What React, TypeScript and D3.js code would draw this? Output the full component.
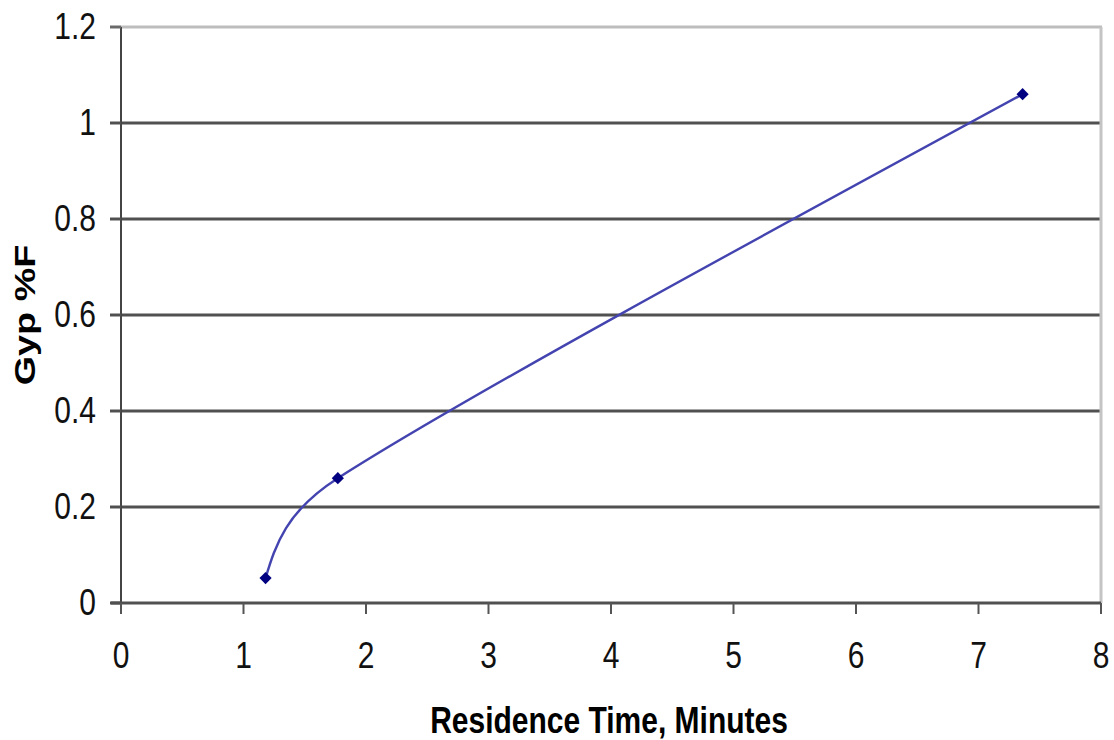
import React from "react";
import * as d3 from "d3";

const residenceTime = [1.18, 1.77, 7.36];
const gypF = [0.052, 0.26, 1.06];
const xTicks = [0, 1, 2, 3, 4, 5, 6, 7, 8];
const yTicks = [0, 0.2, 0.4, 0.6, 0.8, 1, 1.2];
const xTitle = "Residence Time, Minutes";
const yTitle = "Gyp %F";

const W = 1114;
const H = 740;
const FONT = "'Liberation Sans', Arial, sans-serif";
const SY = 1.26;

// Excel-like smoothed line: Catmull-Rom tangents, arms clamped to half the adjacent segment,
// natural end conditions.
function smoothPath(p: [number, number][]): string {
  const n = p.length;
  const path = d3.path();
  if (n < 2) return "";
  const dist = (a: [number, number], b: [number, number]) => Math.hypot(b[0] - a[0], b[1] - a[1]);
  const outC: [number, number][] = [];
  const inC: [number, number][] = [];
  for (let i = 1; i < n - 1; i++) {
    const tx = (p[i + 1][0] - p[i - 1][0]) / 6;
    const ty = (p[i + 1][1] - p[i - 1][1]) / 6;
    const tl = Math.hypot(tx, ty) || 1;
    const ux = tx / tl, uy = ty / tl;
    const back = Math.min(tl, 0.5 * dist(p[i - 1], p[i]));
    const fwd = Math.min(tl, 0.5 * dist(p[i], p[i + 1]));
    inC[i] = [p[i][0] - ux * back, p[i][1] - uy * back];
    outC[i] = [p[i][0] + ux * fwd, p[i][1] + uy * fwd];
  }
  if (n === 2) {
    outC[0] = [p[0][0] + (p[1][0] - p[0][0]) / 3, p[0][1] + (p[1][1] - p[0][1]) / 3];
    inC[1] = [p[0][0] + 2 * (p[1][0] - p[0][0]) / 3, p[0][1] + 2 * (p[1][1] - p[0][1]) / 3];
  } else {
    outC[0] = [(p[0][0] + inC[1][0]) / 2, (p[0][1] + inC[1][1]) / 2];
    inC[n - 1] = [(p[n - 1][0] + outC[n - 2][0]) / 2, (p[n - 1][1] + outC[n - 2][1]) / 2];
  }
  path.moveTo(p[0][0], p[0][1]);
  for (let i = 0; i < n - 1; i++) {
    path.bezierCurveTo(outC[i][0], outC[i][1], inC[i + 1][0], inC[i + 1][1], p[i + 1][0], p[i + 1][1]);
  }
  return path.toString();
}

export default function App() {
  const x = d3.scaleLinear().domain([0, 8]).range([121, 1101]);
  const y = d3.scaleLinear().domain([0, 1.2]).range([603, 27]);
  const pts: [number, number][] = residenceTime.map((t, i) => [x(t), y(gypF[i])]);
  const diamond = d3.symbol().type(d3.symbolDiamond2).size(95)();

  return (
    <svg
      width={W}
      height={H}
      style={{ position: "absolute", left: 0, top: 0, background: "#fff" }}
    >
      {yTicks
        .filter((v) => v > 0 && v < 1.2)
        .map((v) => (
          <line
            key={"g" + v}
            x1={x(0)}
            x2={x(8)}
            y1={y(v)}
            y2={y(v)}
            stroke="#505050"
            strokeWidth={3}
          />
        ))}
      <line x1={x(0)} x2={x(8) + 1} y1={y(1.2)} y2={y(1.2)} stroke="#bdbdbd" strokeWidth={3} />
      <line x1={x(8)} x2={x(8)} y1={y(1.2)} y2={y(0)} stroke="#c4c4c4" strokeWidth={3} />
      <line x1={x(0)} x2={x(0)} y1={y(1.2)} y2={y(0)} stroke="#454545" strokeWidth={2} />
      <line x1={x(0) - 10} x2={x(8)} y1={y(0)} y2={y(0)} stroke="#505050" strokeWidth={3} />
      {yTicks.map((v) => (
        <line
          key={"yt" + v}
          x1={x(0) - 11}
          x2={x(0)}
          y1={y(v)}
          y2={y(v)}
          stroke={v === 1.2 ? "#6a6a6a" : "#505050"}
          strokeWidth={3}
        />
      ))}
      {xTicks.map((v) => (
        <line
          key={"xt" + v}
          x1={x(v)}
          x2={x(v)}
          y1={y(0)}
          y2={y(0) + 11}
          stroke="#555"
          strokeWidth={2}
        />
      ))}
      {yTicks.map((v) => (
        <text
          key={"yl" + v}
          transform={`translate(96,${y(v) + 12}) scale(1,${SY})`}
          textAnchor="end"
          fontFamily={FONT}
          fontSize={30}
          fill="#111"
        >
          {String(v)}
        </text>
      ))}
      {xTicks.map((v) => (
        <text
          key={"xl" + v}
          transform={`translate(${x(v)},668) scale(1,${SY})`}
          textAnchor="middle"
          fontFamily={FONT}
          fontSize={30}
          fill="#111"
        >
          {String(v)}
        </text>
      ))}
      <path d={smoothPath(pts)} fill="none" stroke="#4444b0" strokeWidth={2.4} />
      {pts.map((p, i) => (
        <path key={"m" + i} d={diamond || ""} transform={`translate(${p[0]},${p[1]})`} fill="#000080" />
      ))}
      <text
        transform={`translate(609,733) scale(1,${SY})`}
        textAnchor="middle"
        fontFamily={FONT}
        fontSize={30}
        fontWeight="bold"
        fill="#000"
      >
        {xTitle}
      </text>
      <text
        transform={`translate(35,315) rotate(-90) scale(${SY},1)`}
        textAnchor="middle"
        fontFamily={FONT}
        fontSize={30}
        fontWeight="bold"
        fill="#000"
      >
        {yTitle}
      </text>
    </svg>
  );
}
